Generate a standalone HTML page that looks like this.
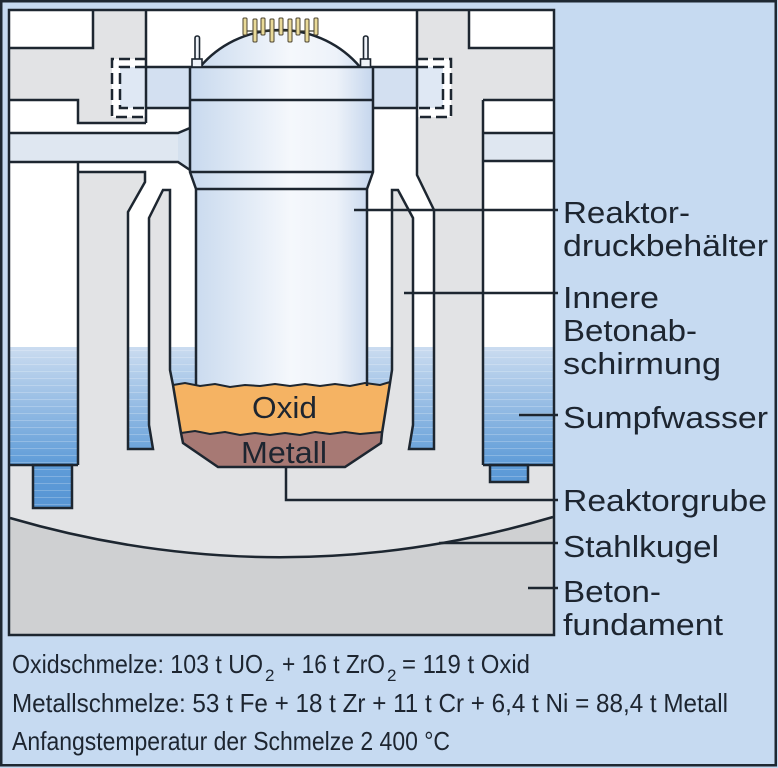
<!DOCTYPE html>
<html><head><meta charset="utf-8">
<style>
html,body{margin:0;padding:0;background:#c6daf1;overflow:hidden;}
svg{display:block;}
text{font-family:"Liberation Sans",sans-serif;fill:#1d2530;}
</style></head><body>
<svg width="778" height="768" viewBox="0 0 778 768" xmlns="http://www.w3.org/2000/svg">
<defs>
<linearGradient id="ves" gradientUnits="userSpaceOnUse" x1="190" y1="0" x2="373" y2="0">
 <stop offset="0" stop-color="#c8d9ee"/>
 <stop offset="0.55" stop-color="#f5f8fc"/>
 <stop offset="0.8" stop-color="#edf2f9"/>
 <stop offset="1" stop-color="#c5d6ed"/>
</linearGradient>
<linearGradient id="wat" gradientUnits="userSpaceOnUse" x1="0" y1="347" x2="0" y2="508">
 <stop offset="0" stop-color="#cbdcf0"/>
 <stop offset="0.73" stop-color="#5f9cd8"/>
 <stop offset="1" stop-color="#5795d4"/>
</linearGradient>
<pattern id="str" patternUnits="userSpaceOnUse" width="10" height="7">
 <rect x="0" y="0" width="10" height="1" fill="#ffffff" opacity="0.22"/>
</pattern>
</defs>

<rect x="0" y="0" width="778" height="768" fill="#c6daf1"/>
<rect x="1.25" y="1.25" width="774.5" height="764" fill="none" stroke="#1e2832" stroke-width="2.5"/>

<!-- diagram box base -->
<rect x="9" y="10" width="545" height="625" fill="#e2e3e5"/>
<path d="M10,518 Q281.5,597 553,517 L553,635 L10,635 Z" fill="#cfd0d2"/>

<!-- white areas -->
<g fill="#ffffff">
 <rect x="10" y="10" width="83" height="38"/>
 <rect x="469" y="10" width="84" height="38"/>
 <rect x="10" y="100" width="68" height="33"/>
 <rect x="10" y="162" width="68" height="185"/>
 <rect x="483" y="100" width="70" height="33"/>
 <rect x="483" y="161" width="70" height="186"/>
 <path d="M146,10 L417,10 L417,175 L434,210 L434,449 L409,449 L413,425 L413,218 L398,190 L392,190 L392,370 L390,383 L381,443 L345,467 L218,467 L183,443 L173,385 L170,370 L170,190 L163,190 L149,218 L149,425 L153,449 L128,449 L128,212 L145,182 L145,172 L78,172 L78,123 L146,123 Z"/>
 <rect x="112" y="59" width="34" height="58"/>
 <rect x="417" y="59" width="34" height="58"/>
</g>

<!-- water -->
<g fill="url(#wat)">
 <rect x="10" y="347" width="68" height="118"/>
 <rect x="33" y="465" width="39" height="43"/>
 <rect x="483" y="347" width="70" height="118"/>
 <rect x="490" y="465" width="38" height="17"/>
 <path d="M128,347 H149 V425 L153,449 H128 Z"/>
 <path d="M413,347 H434 V449 H409 L413,425 Z"/>
 <path d="M170,347 H196 V386 H173 L170,370 Z"/>
 <path d="M367,347 H392 V370 L390,386 H367 Z"/>
</g>
<g fill="url(#str)">
 <rect x="10" y="347" width="68" height="118"/>
 <rect x="33" y="465" width="39" height="43"/>
 <rect x="483" y="347" width="70" height="118"/>
 <rect x="490" y="465" width="38" height="17"/>
 <path d="M128,347 H149 V425 L153,449 H128 Z"/>
 <path d="M413,347 H434 V449 H409 L413,425 Z"/>
 <path d="M170,347 H196 V386 H173 L170,370 Z"/>
 <path d="M367,347 H392 V370 L390,386 H367 Z"/>
</g>

<!-- pipes and flanges -->
<rect x="10" y="133" width="168" height="29" fill="#dfe7f1"/>
<path d="M178,133 L190,128 L190,170 L178,162 Z" fill="#d4e0ee"/>
<rect x="483" y="133" width="70" height="28" fill="#dfe7f1"/>
<rect x="146" y="67" width="44" height="41" fill="#d3e0f1"/>
<rect x="373" y="67" width="44" height="41" fill="#d3e0f1"/>
<rect x="120" y="67" width="26" height="41" fill="#dfe8f4"/>
<rect x="417" y="67" width="26" height="41" fill="#dfe8f4"/>

<!-- vessel -->
<path d="M190,67 H373 V172 L367,189 V386 H196 V189 L190,172 Z" fill="url(#ves)"/>
<path d="M200,67 A105,105 0 0 1 360,67 Z" fill="url(#ves)"/>

<!-- melt -->
<path d="M173,385 L185,383 L200,386 L215,384 L230,387 L245,385 L260,386 L275,384 L290,386 L305,384 L320,386 L335,384 L350,386 L365,383 L380,385 L390,382 L382,432 L360,434 L345,432 L330,434 L315,432 L300,435 L285,433 L270,435 L255,433 L240,435 L225,432 L210,434 L195,431 L181,433 Z" fill="#f5b363"/>
<path d="M181,433 L195,431 L210,434 L225,432 L240,435 L255,433 L270,435 L285,433 L300,435 L315,432 L330,434 L345,432 L360,434 L382,432 L381,443 L345,467 L218,467 L183,443 Z" fill="#a77974"/>

<!-- outlines -->
<g fill="none" stroke="#1d2630" stroke-width="2.5" stroke-linejoin="miter">
 <path d="M93,10 V48 H10"/>
 <path d="M10,100 H78 V123 H146"/>
 <path d="M146,10 V123"/>
 <path d="M10,133 H178 L190,128"/>
 <path d="M10,162 H178 L190,170"/>
 <path d="M78,162 V465"/>
 <path d="M10,465 H78"/>
 <rect x="33" y="465" width="39" height="43"/>
 <path d="M78,172 H145 V182 L128,212 V449 H153 L149,425 V218 L163,190 H170 V370 L173,385 L181,433 L183,443 L218,467 H345 L381,443 L382,433 L390,383 L392,370 V190 H398 L413,218 V425 L409,449 H434 V210 L417,175 V10"/>
 <path d="M146,67 H417"/>
 <path d="M146,108 H190 M373,108 H417"/>
 <path d="M190,67 V172 L196,189 V386"/>
 <path d="M373,67 V172 L367,189 V386"/>
 <path d="M190,100 H373 M190,172 H373 M196,189 H367"/>
 <path d="M200,67 A105,105 0 0 1 360,67"/>
 <path d="M469,10 V48 H553"/>
 <path d="M483,100 H553"/>
 <path d="M483,100 V465"/>
 <path d="M483,133 H553 M483,161 H553"/>
 <path d="M483,465 H553"/>
 <rect x="490" y="465" width="38" height="17"/>
 <path d="M10,518 Q281.5,597 553,517"/>
 <path stroke-width="2" d="M173,385 L185,383 L200,386 L215,384 L230,387 L245,385 L260,386 L275,384 L290,386 L305,384 L320,386 L335,384 L350,386 L365,383 L380,385 L390,382"/>
 <path stroke-width="2" d="M181,433 L195,431 L210,434 L225,432 L240,435 L255,433 L270,435 L285,433 L300,435 L315,432 L330,434 L345,432 L360,434 L382,432"/>
</g>
<!-- dashed boxes -->
<g fill="none" stroke="#1d2630" stroke-width="2.5" stroke-dasharray="11 5">
 <path d="M146,59 H112 V117 H146"/>
 <path d="M146,67 H120 V108 H146"/>
 <path d="M417,59 H451 V117 H417"/>
 <path d="M417,67 H443 V108 H417"/>
</g>

<!-- studs -->
<g fill="#eef2f8" stroke="#1d2630" stroke-width="1.6">
 <rect x="195" y="36" width="4.5" height="24" rx="2"/>
 <rect x="192" y="59" width="10" height="8"/>
 <rect x="363.5" y="36" width="4.5" height="24" rx="2"/>
 <rect x="360.5" y="59" width="10" height="8"/>
</g>
<!-- CRDM rods -->
<path d="M245,31 H316" stroke="#3a3a2a" stroke-width="1.2" fill="none"/>
<g fill="#e9da98" stroke="#4a4330" stroke-width="1">
 <rect x="243" y="18" width="4" height="17" rx="1"/>
 <rect x="253" y="19" width="4" height="23" rx="1"/>
 <rect x="261" y="18" width="4" height="17" rx="1"/>
 <rect x="270" y="19" width="4" height="23" rx="1"/>
 <rect x="279" y="18" width="4" height="17" rx="1"/>
 <rect x="288" y="19" width="4" height="23" rx="1"/>
 <rect x="296" y="18" width="4" height="17" rx="1"/>
 <rect x="305" y="19" width="4" height="23" rx="1"/>
 <rect x="314" y="18" width="4" height="17" rx="1"/>
</g>

<!-- diagram box border -->
<rect x="9" y="10" width="545" height="625" fill="none" stroke="#1d2630" stroke-width="2.5"/>

<!-- leaders -->
<g fill="none" stroke="#1d2630" stroke-width="2.5">
 <path d="M354,210 H558"/>
 <path d="M404,293 H558"/>
 <path d="M519,415 H558"/>
 <path d="M286,467 V500 H558"/>
 <path d="M439,543 H558"/>
 <path d="M528,588 H558"/>
</g>

<!-- melt labels -->
<text x="252" y="418" font-size="31" textLength="65" lengthAdjust="spacingAndGlyphs">Oxid</text>
<text x="241" y="463" font-size="31" textLength="86" lengthAdjust="spacingAndGlyphs">Metall</text>

<!-- right labels -->
<g font-size="31">
 <text x="563" y="223" textLength="127" lengthAdjust="spacingAndGlyphs">Reaktor-</text>
 <text x="563" y="256" textLength="205" lengthAdjust="spacingAndGlyphs">druckbehälter</text>
 <text x="563" y="308" textLength="96" lengthAdjust="spacingAndGlyphs">Innere</text>
 <text x="563" y="341" textLength="134" lengthAdjust="spacingAndGlyphs">Betonab-</text>
 <text x="563" y="374" textLength="158" lengthAdjust="spacingAndGlyphs">schirmung</text>
 <text x="563" y="428" textLength="205" lengthAdjust="spacingAndGlyphs">Sumpfwasser</text>
 <text x="563" y="511" textLength="204" lengthAdjust="spacingAndGlyphs">Reaktorgrube</text>
 <text x="563" y="557" textLength="156" lengthAdjust="spacingAndGlyphs">Stahlkugel</text>
 <text x="563" y="602" textLength="98" lengthAdjust="spacingAndGlyphs">Beton-</text>
 <text x="563" y="635" textLength="160" lengthAdjust="spacingAndGlyphs">fundament</text>
</g>

<!-- bottom text -->
<g font-size="26">
 <text x="12" y="673" textLength="251" lengthAdjust="spacingAndGlyphs">Oxidschmelze: 103 t UO</text>
 <text x="265" y="681" font-size="17">2</text>
 <text x="282" y="673" textLength="103" lengthAdjust="spacingAndGlyphs">+ 16 t ZrO</text>
 <text x="387" y="681" font-size="17">2</text>
 <text x="402" y="673" textLength="128" lengthAdjust="spacingAndGlyphs">= 119 t Oxid</text>
 <text x="12" y="712" textLength="716" lengthAdjust="spacingAndGlyphs">Metallschmelze: 53 t Fe + 18 t Zr + 11 t Cr + 6,4 t Ni = 88,4 t Metall</text>
 <text x="12" y="750" textLength="438" lengthAdjust="spacingAndGlyphs">Anfangstemperatur der Schmelze 2 400 °C</text>
</g>
</svg>
</body></html>
